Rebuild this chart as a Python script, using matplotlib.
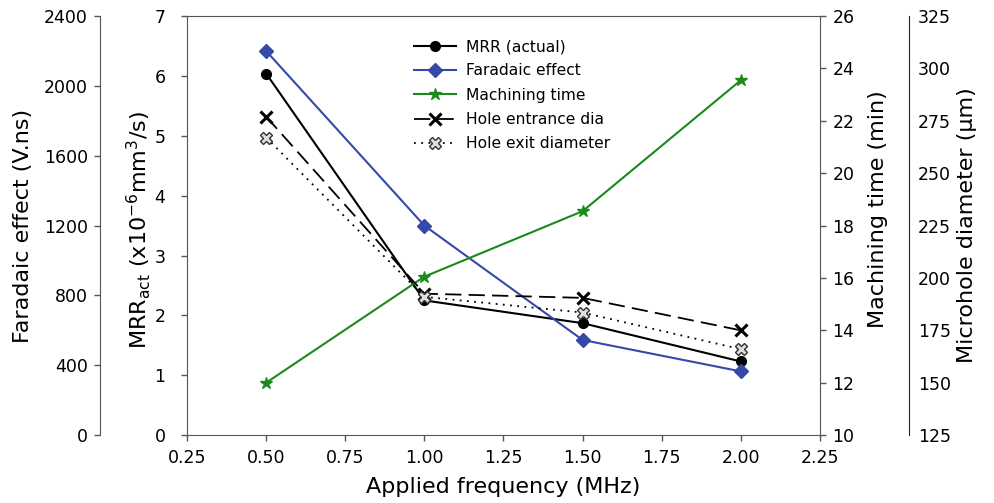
import matplotlib
matplotlib.use('Agg')
import matplotlib.pyplot as plt

plt.rcParams['font.family'] = ['DejaVu Sans']
plt.rcParams['mathtext.fontset'] = 'dejavusans'
plt.rcParams['mathtext.default'] = 'regular'

# 데이터
freq = [0.5, 1.0, 1.5, 2.0]
mrr_actual = [6.04, 2.25, 1.87, 1.23]
faradaic = [2200, 1200, 545, 365]
machining_time = [12.0, 16.05, 18.55, 23.55]
hole_entrance = [277, 192.5, 190.5, 175]
hole_exit = [267, 191, 183.5, 166]

x_ticks = [0.25, 0.50, 0.75, 1.00, 1.25, 1.50, 1.75, 2.00, 2.25]
mrr_ticks = [0, 1, 2, 3, 4, 5, 6, 7]
far_ticks = [0, 400, 800, 1200, 1600, 2000, 2400]
time_ticks = [10, 12, 14, 16, 18, 20, 22, 24, 26]
dia_ticks = [125, 150, 175, 200, 225, 250, 275, 300, 325]

spine_c = '#555555'
blue = '#3449a8'
green = '#1a8a1a'
tick_fs = 12.5
label_fs = 16

fig = plt.figure(figsize=(9.95, 5.03), dpi=100)
ax = fig.add_axes([0.188, 0.135, 0.636, 0.833])
ax_far = ax.twinx()
ax_time = ax.twinx()
ax_dia = ax.twinx()

# 축 범위
ax.set_xlim(0.25, 2.25)
ax.set_ylim(0, 7)
ax_far.set_ylim(0, 2400)
ax_time.set_ylim(10, 26)
ax_dia.set_ylim(125, 325)

# 스파인 설정
for a in (ax, ax_far, ax_time, ax_dia):
    for s in a.spines.values():
        s.set_color(spine_c)
        s.set_visible(False)
ax.spines['left'].set_visible(True)
ax.spines['bottom'].set_visible(True)
ax.spines['top'].set_visible(True)
ax_time.spines['right'].set_visible(True)

ax_far.spines['left'].set_visible(True)
ax_far.spines['left'].set_position(('axes', -0.137))
ax_far.yaxis.set_ticks_position('left')
ax_far.yaxis.set_label_position('left')

ax_dia.spines['right'].set_visible(True)
ax_dia.spines['right'].set_position(('axes', 1.1406))
ax_dia.spines['right'].set_color('#222222')

# 눈금
ax.set_xticks(x_ticks)
ax.set_xticklabels(['%.2f' % v for v in x_ticks])
ax.set_yticks(mrr_ticks)
ax_far.set_yticks(far_ticks)
ax_time.set_yticks(time_ticks)
ax_dia.set_yticks(dia_ticks)

for a in (ax, ax_far, ax_time):
    a.tick_params(direction='out', length=4.5, width=1, color=spine_c,
                  labelsize=tick_fs, pad=4.5)
ax.tick_params(axis='x', top=False, pad=5.5)
ax.tick_params(axis='y', pad=11)
ax_dia.tick_params(axis='y', length=0, labelsize=tick_fs, pad=6.5)

# 데이터 그리기
ax.plot(freq, mrr_actual, '-o', color='black', lw=1.5, ms=7,
        label='MRR (actual)')
ax_far.plot(freq, faradaic, '-D', color=blue, lw=1.5, ms=7,
            label='Faradaic effect')
ax_time.plot(freq, machining_time, '-*', color=green, lw=1.5, ms=9,
             label='Machining time')
ax_dia.plot(freq, hole_entrance, color='black', lw=1.3, ls=(0, (9, 4)),
            marker='x', ms=8, mew=2.2, label='Hole entrance dia')
ax_dia.plot(freq, hole_exit, color='black', lw=1.3, ls=(0, (1, 3)),
            marker='X', ms=9, mfc='#dddddd', mec='#333333', mew=1,
            label='Hole exit diameter')

# 축 라벨
ax.set_xlabel('Applied frequency (MHz)', fontsize=label_fs)
ax.xaxis.set_label_coords(0.5, -0.1)
ax.set_ylabel(r'MRR$_{act}$ (x10$^{-6}$mm$^{3}$/s)', fontsize=label_fs)
ax.yaxis.set_label_coords(-0.054, 0.49)
ax_far.set_ylabel('Faradaic effect (V.ns)', fontsize=label_fs)
ax_far.yaxis.set_label_coords(-0.243, 0.5)
ax_time.set_ylabel('Machining time (min)', fontsize=label_fs)
ax_time.yaxis.set_label_coords(1.076, 0.54)
ax_dia.set_ylabel('Microhole diameter (\u03bcm)', fontsize=label_fs)
ax_dia.yaxis.set_label_coords(1.2165, 0.5)

# 범례
handles = []
labels = []
for a in (ax, ax_far, ax_time, ax_dia):
    h, l = a.get_legend_handles_labels()
    handles += h
    labels += l
fig.legend(handles, labels, loc='upper left',
           bbox_to_anchor=(400 / 995, 1 - 25 / 503), frameon=False,
           fontsize=11.2, handlelength=2.7, handletextpad=0.65,
           labelspacing=0.6)

plt.savefig('out.png', dpi=100)
